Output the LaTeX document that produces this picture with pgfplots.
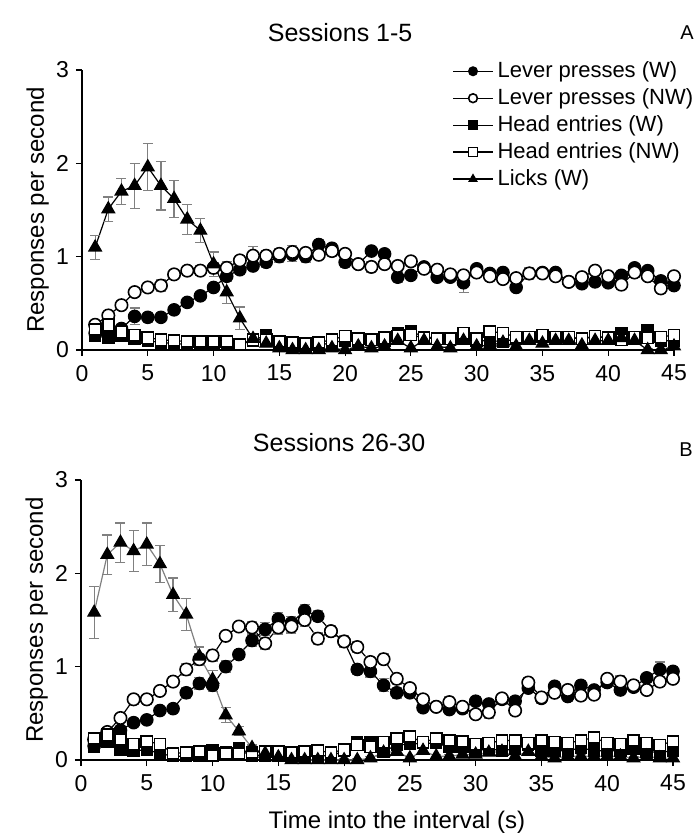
\documentclass[border=0pt]{standalone}
\usepackage{fontspec}
\setmainfont{Liberation Sans}
\usepackage{pgfplots}
\usepackage{pgfplotstable}
\pgfplotsset{compat=1.18}

\pgfplotstableread{
x lw lwe lnw lnwe hw hnw k ke
1 0.18 0.03 0.27 0.04 0.15 0.22 1.10 0.13
2 0.20 0.03 0.37 0.04 0.13 0.27 1.51 0.13
3 0.23 0.04 0.48 0.04 0.15 0.19 1.70 0.14
4 0.36 0.09 0.62 0.05 0.12 0.16 1.76 0.24
5 0.35 0.05 0.67 0.04 0.10 0.13 1.96 0.25
6 0.35 0.04 0.69 0.06 0.08 0.11 1.76 0.26
7 0.43 0.05 0.81 0.04 0.07 0.10 1.62 0.20
8 0.51 0.04 0.85 0.04 0.06 0.09 1.40 0.16
9 0.58 0.04 0.85 0.05 0.06 0.09 1.28 0.13
10 0.67 0.04 0.88 0.06 0.06 0.09 0.92 0.13
11 0.79 0.05 0.88 0.07 0.06 0.09 0.62 0.12
12 0.86 0.05 0.96 0.05 0.06 0.06 0.34 0.12
13 0.90 0.05 1.01 0.10 0.10 0.11 0.12 0.05
14 0.94 0.05 1.01 0.06 0.16 0.11 0.07 0.03
15 1.00 0.06 1.03 0.06 0.08 0.09 0.02 0.02
16 1.02 0.07 1.05 0.07 0.05 0.08 0.00 0.01
17 1.00 0.06 1.04 0.05 0.05 0.07 0.00 0.01
18 1.13 0.05 1.02 0.05 0.05 0.08 0.00 0.01
19 1.09 0.05 1.06 0.06 0.08 0.11 0.02 0.02
20 0.94 0.05 1.03 0.05 0.10 0.15 0.00 0.01
21 0.92 0.04 0.92 0.04 0.10 0.12 0.04 0.02
22 1.06 0.04 0.89 0.06 0.12 0.11 0.02 0.02
23 1.03 0.04 0.92 0.04 0.10 0.13 0.04 0.02
24 0.78 0.06 0.90 0.04 0.18 0.15 0.10 0.02
25 0.80 0.04 0.95 0.05 0.20 0.16 0.02 0.02
26 0.89 0.05 0.87 0.05 0.14 0.13 0.10 0.02
27 0.78 0.04 0.86 0.04 0.13 0.12 0.04 0.02
28 0.78 0.04 0.81 0.04 0.13 0.12 0.02 0.02
29 0.72 0.10 0.80 0.04 0.12 0.18 0.10 0.02
30 0.87 0.04 0.83 0.04 0.10 0.12 0.04 0.02
31 0.82 0.04 0.79 0.05 0.10 0.20 0.05 0.02
32 0.83 0.04 0.76 0.04 0.09 0.18 0.08 0.02
33 0.67 0.04 0.77 0.04 0.12 0.14 0.04 0.02
34 0.82 0.04 0.82 0.06 0.12 0.14 0.10 0.02
35 0.83 0.04 0.82 0.04 0.14 0.16 0.07 0.02
36 0.83 0.04 0.79 0.04 0.14 0.14 0.10 0.02
37 0.73 0.04 0.73 0.04 0.13 0.14 0.10 0.02
38 0.71 0.04 0.78 0.04 0.12 0.12 0.05 0.02
39 0.73 0.04 0.85 0.04 0.14 0.15 0.10 0.02
40 0.72 0.04 0.79 0.05 0.13 0.13 0.10 0.02
41 0.80 0.04 0.70 0.05 0.18 0.11 0.13 0.02
42 0.88 0.05 0.83 0.05 0.14 0.14 0.10 0.02
43 0.85 0.04 0.79 0.04 0.21 0.13 0.00 0.02
44 0.74 0.04 0.66 0.05 0.10 0.14 0.00 0.02
45 0.69 0.04 0.79 0.04 0.10 0.16 0.04 0.02
}\topdata

\pgfplotstableread{
x lw lwe lnw lnwe hw hnw k ke
1 0.15 0.03 0.22 0.04 0.14 0.23 1.58 0.28
2 0.25 0.04 0.30 0.05 0.20 0.27 2.20 0.21
3 0.32 0.04 0.45 0.04 0.11 0.22 2.33 0.21
4 0.40 0.04 0.65 0.05 0.10 0.17 2.24 0.22
5 0.43 0.04 0.65 0.05 0.11 0.20 2.31 0.23
6 0.53 0.04 0.74 0.05 0.07 0.17 2.10 0.20
7 0.55 0.04 0.84 0.05 0.04 0.07 1.77 0.18
8 0.72 0.06 0.97 0.06 0.04 0.08 1.56 0.17
9 0.82 0.06 1.08 0.06 0.05 0.09 1.11 0.10
10 0.80 0.07 1.12 0.06 0.11 0.05 0.86 0.10
11 1.00 0.06 1.33 0.05 0.08 0.07 0.48 0.08
12 1.13 0.05 1.43 0.05 0.13 0.07 0.31 0.05
13 1.28 0.06 1.42 0.06 0.05 0.08 0.13 0.03
14 1.40 0.07 1.25 0.06 0.05 0.09 0.07 0.02
15 1.51 0.07 1.42 0.07 0.05 0.09 0.03 0.02
16 1.47 0.07 1.43 0.07 0.04 0.08 0.00 0.01
17 1.60 0.07 1.50 0.07 0.05 0.09 0.00 0.01
18 1.54 0.06 1.30 0.06 0.05 0.10 0.00 0.01
19 1.38 0.06 1.38 0.06 0.04 0.08 0.00 0.01
20 1.27 0.06 1.27 0.06 0.10 0.11 0.00 0.01
21 0.97 0.05 1.21 0.06 0.19 0.16 0.00 0.01
22 0.95 0.06 1.05 0.06 0.19 0.14 0.02 0.02
23 0.80 0.07 1.08 0.06 0.09 0.19 0.08 0.02
24 0.72 0.06 0.87 0.06 0.16 0.23 0.09 0.02
25 0.72 0.05 0.77 0.05 0.17 0.25 0.02 0.02
26 0.56 0.04 0.65 0.05 0.18 0.19 0.10 0.02
27 0.57 0.04 0.57 0.04 0.18 0.23 0.04 0.02
28 0.54 0.04 0.62 0.06 0.14 0.21 0.04 0.02
29 0.55 0.05 0.57 0.04 0.14 0.20 0.06 0.02
30 0.63 0.05 0.49 0.04 0.10 0.17 0.06 0.02
31 0.60 0.05 0.51 0.06 0.12 0.18 0.08 0.02
32 0.65 0.05 0.66 0.04 0.10 0.21 0.09 0.02
33 0.63 0.05 0.53 0.05 0.12 0.21 0.04 0.02
34 0.77 0.05 0.83 0.05 0.16 0.18 0.09 0.02
35 0.66 0.05 0.67 0.05 0.10 0.21 0.04 0.02
36 0.79 0.05 0.72 0.05 0.10 0.19 0.02 0.02
37 0.68 0.05 0.75 0.05 0.10 0.18 0.04 0.02
38 0.80 0.05 0.69 0.05 0.13 0.21 0.04 0.02
39 0.75 0.05 0.70 0.05 0.10 0.24 0.04 0.02
40 0.83 0.05 0.87 0.05 0.10 0.18 0.04 0.02
41 0.75 0.05 0.84 0.06 0.10 0.17 0.04 0.02
42 0.78 0.05 0.80 0.05 0.12 0.21 0.02 0.02
43 0.88 0.05 0.75 0.05 0.09 0.18 0.04 0.02
44 0.97 0.08 0.84 0.05 0.08 0.16 0.02 0.02
45 0.95 0.05 0.87 0.05 0.10 0.20 0.02 0.02
}\botdata

\pgfplotsset{
  panel/.style={
    scale only axis, width=296pt, height=140pt,
    xmin=0, xmax=45, ymin=0, ymax=3,
    xtick={0,5,...,45}, ytick={0,1,2,3},
    axis lines=left, axis line style={-, line width=0.6pt},
    tick align=outside, major tick length=3pt,
    tick style={line width=0.6pt, black},
    clip=false,
    /pgf/number format/assume math mode=true,
    tick label style={font=\fontsize{11.5}{13}\selectfont},
    xticklabel style={yshift=-1pt},
    label style={font=\fontsize{12}{14}\selectfont},
    ylabel={Responses per second},
    ylabel style={at={(axis description cs:-0.075,0.5)}, anchor=center},
  },
  errs/.style={error bars/.cd, y dir=both, y explicit,
    error bar style={color=gray, line width=0.6pt},
    error mark options={rotate=90, mark size=2.5pt, color=gray, line width=0.6pt}},
  lwst/.style={black, line width=0.6pt, mark=*, mark size=3.1pt, mark options={fill=black, solid}},
  lnwst/.style={black, line width=0.6pt, mark=*, mark size=3.1pt, mark options={fill=white, draw=black, line width=0.8pt, solid}},
  hwst/.style={black, line width=0.6pt, mark=square*, mark size=2.8pt, mark options={fill=black, solid}},
  hnwst/.style={black, line width=0.6pt, mark=square*, mark size=2.8pt, mark options={fill=white, draw=black, line width=0.8pt, solid}},
  kst/.style={line width=0.6pt, mark=triangle*, mark size=3.6pt, mark options={fill=black, draw=black, solid}},
}

\begin{document}
\begin{tikzpicture}
\useasboundingbox (-40.5pt,-39.5pt) rectangle (306.5pt,380pt);
\begin{axis}[panel, at={(0.5pt,205pt)}, anchor=origin,
  legend style={at={(axis description cs:0.625,1.045)}, anchor=north west, draw=none, fill=none,
    font=\fontsize{11}{11.5}\selectfont, row sep=0pt, inner sep=0pt},
  legend cell align=left,
  legend image code/.code={\draw[mark repeat=2, mark phase=2, #1, mark size=2.2pt] plot coordinates {(0pt,0pt) (10pt,0pt) (20pt,0pt)};},
]
\addplot+[lwst, errs] table[x=x, y=lw, y error=lwe] {\topdata};
\addlegendentry{Lever presses (W)}
\addplot+[lnwst, errs] table[x=x, y=lnw, y error=lnwe] {\topdata};
\addlegendentry{Lever presses (NW)}
\addplot+[hwst] table[x=x, y=hw] {\topdata};
\addlegendentry{Head entries (W)}
\addplot+[hnwst] table[x=x, y=hnw] {\topdata};
\addlegendentry{Head entries (NW)}
\addplot+[kst, black, errs] table[x=x, y=k, y error=ke] {\topdata};
\addlegendentry{Licks (W)}
\node[font=\fontsize{12.5}{14}\selectfont] at (axis description cs:0.436,1) [yshift=18.5pt] {Sessions 1-5};
\node[font=\fontsize{10}{12}\selectfont] at (axis description cs:1.022,1) [yshift=18.5pt] {A};
\end{axis}

\begin{axis}[panel, at={(0pt,0pt)}, anchor=origin,
  xlabel={Time into the interval (s)},
  xlabel style={at={(axis description cs:0.5,0)}, anchor=center, yshift=-31pt, xshift=10pt},
]
\addplot+[lwst, errs] table[x=x, y=lw, y error=lwe] {\botdata};
\addplot+[lnwst, errs] table[x=x, y=lnw, y error=lnwe] {\botdata};
\addplot+[hwst] table[x=x, y=hw] {\botdata};
\addplot+[hnwst] table[x=x, y=hnw] {\botdata};
\addplot+[kst, gray, errs] table[x=x, y=k, y error=ke] {\botdata};
\node[font=\fontsize{12.5}{14}\selectfont] at (axis description cs:0.436,1) [yshift=18.5pt] {Sessions 26-30};
\node[font=\fontsize{10}{12}\selectfont] at (axis description cs:1.022,1) [yshift=15pt] {B};
\end{axis}
\end{tikzpicture}
\end{document}
